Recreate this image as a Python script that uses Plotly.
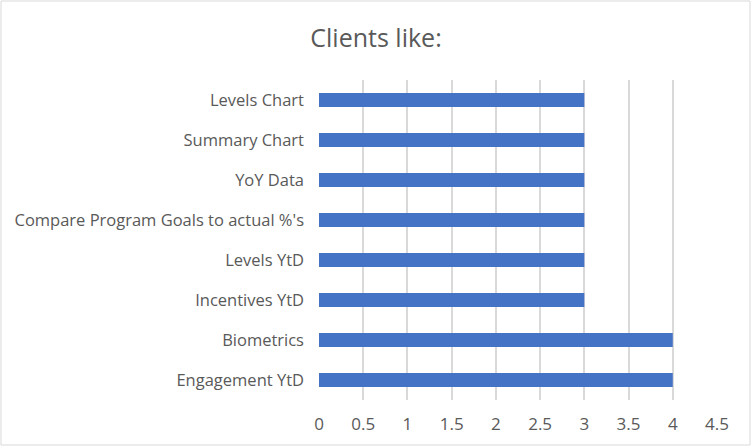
import plotly.graph_objects as go

categories = ["Engagement YtD", "Biometrics", "Incentives YtD", "Levels YtD",
              "Compare Program Goals to actual %'s", "YoY Data", "Summary Chart", "Levels Chart"]
values = [4, 4, 3, 3, 3, 3, 3, 3]
x_ticks = [0, 0.5, 1, 1.5, 2, 2.5, 3, 3.5, 4, 4.5]

W, H = 752, 447
L, R, T, B = 319, 35, 80, 47
pw, ph = W - L - R, H - T - B

fig = go.Figure()
fig.add_trace(go.Bar(x=values, y=categories, orientation="h",
                     marker=dict(color="#4472C4", line=dict(width=0))))

fig.update_layout(
    width=W, height=H,
    margin=dict(l=L, r=R, t=T, b=B),
    paper_bgcolor="white", plot_bgcolor="white",
    font=dict(family="Open Sans, Liberation Sans, sans-serif", size=16, color="#595959"),
    title=dict(text="Clients like:", x=0.5, xref="container", xanchor="center",
               y=1 - 38 / H, yanchor="middle", yref="container",
               font=dict(size=25, color="#595959")),
    bargap=0.65,
    showlegend=False,
    xaxis=dict(range=[0, 4.5], tickvals=x_ticks, ticktext=[f"{v:g}" for v in x_ticks],
               showgrid=True, gridcolor="#D9D9D9", gridwidth=1.5, zeroline=False,
               showline=False, ticks="", ticklabelstandoff=12, fixedrange=True,
               tickfont=dict(size=17)),
    yaxis=dict(showgrid=False, zeroline=False, showline=False, ticks="",
               ticklabelstandoff=14, fixedrange=True, tickfont=dict(size=16.5)),
    shapes=[dict(type="rect", xref="paper", yref="paper",
                 x0=(1 - L) / pw, x1=(W - 2 - L) / pw,
                 y0=(H - B - (H - 2)) / ph, y1=(H - B - 1) / ph,
                 line=dict(color="#D9D9D9", width=1), layer="below")],
)

fig.write_html("out.html", config={"displayModeBar": False},
               post_script="document.body.style.margin='0';")
